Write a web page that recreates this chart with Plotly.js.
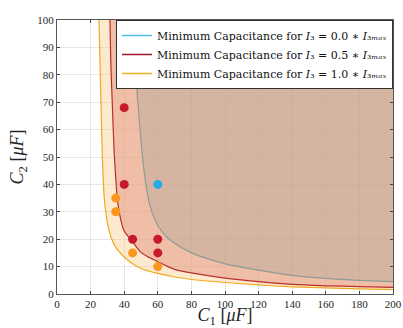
<!DOCTYPE html>
<html>
<head>
<meta charset="utf-8">
<script src="https://cdn.plot.ly/plotly-3.0.1.min.js"></script>
<style>
html,body{margin:0;padding:0;background:#fff;}
#chart{width:403px;height:328px;}
</style>
</head>
<body>
<div id="chart"></div>
<script>
// Minimum capacitance curves
const c1_I00 = [45, 46, 48, 50, 52, 55, 60, 65, 70, 80, 90, 100, 120, 140, 160, 180, 200];
const c2_I00 = [100, 88, 71, 56, 44, 33, 25, 21, 18.5, 15, 12.8, 11, 8.7, 6.8, 5.7, 5.0, 4.5];

const c1_I05 = [31.5, 32, 33, 34, 35, 36, 38, 40, 45, 50, 55, 60, 65, 70, 80, 100, 120, 140, 160, 180, 200];
const c2_I05 = [100, 85, 68, 52, 42, 34, 27, 23, 19, 15.2, 13.3, 11.8, 10.3, 9.0, 7.7, 5.8, 4.5, 3.5, 3.0, 2.7, 2.4];

const c1_I10 = [25, 26, 27, 28, 29, 30, 32, 35, 40, 45, 50, 60, 70, 80, 100, 120, 140, 160, 180, 200];
const c2_I10 = [100, 74, 50, 36, 30, 26, 21, 17, 13.5, 11, 9.3, 7.5, 6.2, 5.3, 4.2, 3.3, 2.6, 2.2, 1.9, 1.6];

// Measured points
const red_c1 = [40, 40, 45, 60, 60];
const red_c2 = [68, 40, 20, 20, 15];
const orange_c1 = [35, 35, 45, 60];
const orange_c2 = [35, 30, 15, 10];
const blue_c1 = [60];
const blue_c2 = [40];

const legendNames = [
  'Minimum Capacitance for <i>I</i>₃ = 0.0 ∗ <i>I</i>₃<i>ₘₐₓ</i>',
  'Minimum Capacitance for <i>I</i>₃ = 0.5 ∗ <i>I</i>₃<i>ₘₐₓ</i>',
  'Minimum Capacitance for <i>I</i>₃ = 1.0 ∗ <i>I</i>₃<i>ₘₐₓ</i>'
];

const xRange = [0, 200];
const yRange = [0, 100];

function topLine(){
  return {x: xRange, y: [yRange[1], yRange[1]], mode:'lines', line:{width:0}, hoverinfo:'skip', showlegend:false};
}
function fillTrace(x, y, color){
  return {x:x, y:y, mode:'lines', fill:'tonexty', fillcolor:color, line:{width:0, shape:'spline', smoothing:0.7}, hoverinfo:'skip', showlegend:false};
}
function lineTrace(x, y, color){
  return {x:x, y:y, mode:'lines', line:{width:1.2, color:color, shape:'spline', smoothing:0.7}, showlegend:false};
}
function legendTrace(name, color){
  return {x:[null], y:[null], mode:'lines', name:name, line:{width:1.5, color:color}, showlegend:true};
}
function markerTrace(x, y, color){
  return {x:x, y:y, mode:'markers', marker:{size:9, color:color}, showlegend:false};
}

const traces = [
  topLine(), fillTrace(c1_I10, c2_I10, 'rgba(250,200,130,0.4)'),
  topLine(), fillTrace(c1_I05, c2_I05, 'rgba(225,140,120,0.46)'),
  topLine(), fillTrace(c1_I00, c2_I00, 'rgba(170,165,155,0.39)'),
  lineTrace(c1_I10, c2_I10, '#eeaa22'),
  lineTrace(c1_I05, c2_I05, '#b8302c'),
  lineTrace(c1_I00, c2_I00, '#8e9c96'),
  legendTrace(legendNames[0], '#4dbeee'),
  legendTrace(legendNames[1], '#a2142f'),
  legendTrace(legendNames[2], '#edb120'),
  markerTrace(red_c1, red_c2, '#c81a2c'),
  markerTrace(orange_c1, orange_c2, '#fa961e'),
  markerTrace(blue_c1, blue_c2, '#27a9e1')
];

const serif = 'Liberation Serif, DejaVu Serif, serif';
const axisCommon = {
  showline:true, linecolor:'#555', linewidth:1, mirror:'ticks',
  ticks:'inside', ticklen:3, tickcolor:'#444',
  showgrid:true, gridcolor:'#e6e6e6', gridwidth:1,
  zeroline:false,
  tickfont:{family:serif, size:11, color:'#262626'}
};

const layout = {
  width:403, height:328,
  margin:{l:57, r:10, t:20, b:34},
  paper_bgcolor:'#fff', plot_bgcolor:'#fff',
  showlegend:true,
  xaxis: Object.assign({}, axisCommon, {
    range:xRange, tickvals:[0,20,40,60,80,100,120,140,160,180,200],
    title:{text:'<i>C</i><sub>1</sub> [<i>μF</i>]', standoff:15, font:{family:serif, size:18, color:'#262626'}}
  }),
  yaxis: Object.assign({}, axisCommon, {
    range:yRange, tickvals:[0,10,20,30,40,50,60,70,80,90,100],
    title:{text:'<i>C</i><sub>2</sub> [<i>μF</i>]', standoff:8, font:{family:serif, size:18, color:'#262626'}}
  }),
  legend:{
    x:1, y:1, xanchor:'right', yanchor:'top', traceorder:'normal',
    bgcolor:'#ffffff', bordercolor:'#333', borderwidth:1,
    font:{family:'DejaVu Serif, serif', size:11, color:'#111'},
    itemwidth:30, tracegroupgap:0
  }
};

Plotly.newPlot('chart', traces, layout, {displayModeBar:false, staticPlot:true});
</script>
</body>
</html>
